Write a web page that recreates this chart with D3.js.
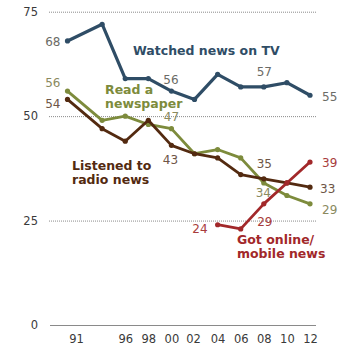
<!DOCTYPE html>
<html>
<head>
<meta charset="utf-8">
<script src="https://cdn.jsdelivr.net/npm/d3@7"></script>
<style>
  html, body { margin: 0; padding: 0; background: #fff; }
  svg { display: block; }
  text { font-family: "DejaVu Sans", Verdana, sans-serif; }
</style>
</head>
<body>
<svg id="chart" width="350" height="355"></svg>
<script>
// ---- data ----
const years = [1991, 1994, 1996, 1998, 2000, 2002, 2004, 2006, 2008, 2010, 2012];
const tvValues = [68, 72, 59, 59, 56, 54, 60, 57, 57, 58, 55];
const newspaperValues = [56, 49, 50, 48, 47, 41, 42, 40, 34, 31, 29];
const radioValues = [54, 47, 44, 49, 43, 41, 40, 36, 35, 34, 33];
const onlineYears = [2004, 2006, 2008, 2010, 2012];
const onlineValues = [24, 23, 29, 34, 39];
const xTickYears = [1991, 1996, 1998, 2000, 2002, 2004, 2006, 2008, 2010, 2012];
const xTickLabels = ["91", "96", "98", "00", "02", "04", "06", "08", "10", "12"];
const yTicks = [0, 25, 50, 75];
const seriesNames = ["Watched news on TV", "Read a newspaper", "Listened to radio news", "Got online/mobile news"];

// ---- layout / style ----
const svg = d3.select("#chart");
const x = d3.scaleLinear().domain([1991, 2012]).range([67.5, 310]);
const y = d3.scaleLinear().domain([0, 75]).range([325, 11.7]);

const series = [
  { name: seriesNames[0], xs: years, vs: tvValues, color: "#2f4d66", width: 3.2, labelColor: "#6b6b66" },
  { name: seriesNames[1], xs: years, vs: newspaperValues, color: "#7d8b3c", width: 2.8, labelColor: "#8a8a5e" },
  { name: seriesNames[2], xs: years, vs: radioValues, color: "#532a10", width: 2.8, labelColor: "#6e5546" },
  { name: seriesNames[3], xs: onlineYears, vs: onlineValues, color: "#a2282a", width: 2.8, labelColor: "#a83c3c" }
];

// y axis with grid
const yAxis = d3.axisLeft(y).tickValues(yTicks).tickSize(-267).tickPadding(11);
const gy = svg.append("g").attr("transform", "translate(49,0)").call(yAxis);
gy.select(".domain").remove();
gy.selectAll(".tick line")
  .attr("stroke", "#8a8a8a")
  .attr("stroke-width", 1)
  .attr("stroke-dasharray", d => d === 0 ? null : "1,1")
  .attr("x1", d => d === 0 ? 1 : 0);
gy.selectAll(".tick text")
  .attr("fill", "#3a3a3a")
  .style("font-size", "11.5px")
  .style("font-family", "'DejaVu Sans', Verdana, sans-serif");

// x axis
const xAxis = d3.axisBottom(x).tickValues(xTickYears)
  .tickFormat((d, i) => xTickLabels[i]).tickSize(0).tickPadding(10);
const gx = svg.append("g").attr("transform", "translate(0,325)").call(xAxis);
gx.select(".domain").remove();
gx.selectAll(".tick text")
  .attr("fill", "#3a3a3a")
  .style("font-size", "11.5px")
  .style("font-family", "'DejaVu Sans', Verdana, sans-serif")
  .attr("dx", d => d === 1991 ? 8.5 : (d === 2002 ? -1.5 : 0));

// lines
const line = d3.line().x(d => x(d[0])).y(d => y(d[1]));
series.forEach(s => {
  const pts = s.xs.map((yr, i) => [yr, s.vs[i]]);
  svg.append("path")
    .datum(pts)
    .attr("d", line)
    .attr("fill", "none")
    .attr("stroke", s.color)
    .attr("stroke-width", s.width)
    .attr("stroke-linejoin", "round");
  svg.selectAll(null).data(pts).enter().append("circle")
    .attr("cx", d => x(d[0])).attr("cy", d => y(d[1]))
    .attr("r", 2.6).attr("fill", s.color);
});

// value labels: [seriesIndex, year, dx, dy(center), anchor]
const valueLabels = [
  [0, 1991, -7, 1, "end"],
  [1, 1991, -7, -8, "end"],
  [2, 1991, -7, 4.5, "end"],
  [0, 2000, -0.5, -11, "middle"],
  [1, 2000, 0, -12, "middle"],
  [2, 2000, -1, 14, "middle"],
  [0, 2008, 0.5, -15, "middle"],
  [0, 2012, 12, 1.5, "start"],
  [2, 2008, 0.5, -15, "middle"],
  [1, 2008, -0.5, 10, "middle"],
  [2, 2012, 10, 1.5, "start"],
  [1, 2012, 12, 6, "start"],
  [3, 2012, 12, 1, "start"],
  [3, 2008, 1, 18, "middle"],
  [3, 2004, -10, 3.5, "end"]
];
valueLabels.forEach(([si, yr, dx, dy, anchor]) => {
  const s = series[si];
  const v = s.vs[s.xs.indexOf(yr)];
  svg.append("text")
    .attr("x", x(yr) + dx)
    .attr("y", y(v) + dy + 4.3)
    .attr("text-anchor", anchor)
    .attr("fill", s.labelColor)
    .style("font-size", "12px")
    .text(v);
});

// series name labels
function nameLabel(lines, xPos, yPos, color) {
  const t = svg.append("text")
    .attr("x", xPos).attr("y", yPos)
    .attr("fill", color)
    .style("font-size", "12.5px")
    .style("font-weight", "bold");
  lines.forEach((ln, i) => {
    t.append("tspan").attr("x", xPos).attr("dy", i === 0 ? 0 : 14).text(ln);
  });
}
nameLabel([seriesNames[0]], 133, 55, series[0].color);
nameLabel(["Read a", "newspaper"], 105, 94, series[1].color);
nameLabel(["Listened to", "radio news"], 72, 170, series[2].color);
nameLabel(["Got online/", "mobile news"], 237, 244, series[3].color);
</script>
</body>
</html>
